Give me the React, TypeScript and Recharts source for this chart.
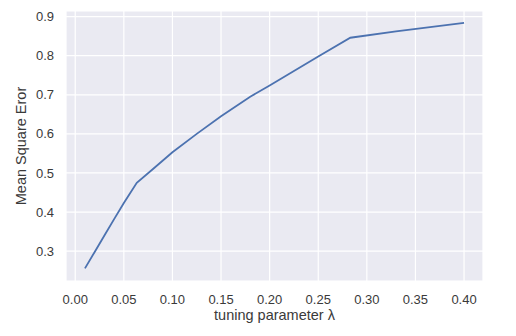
import { LineChart, Line, XAxis, YAxis, CartesianGrid } from 'recharts'

// tuning parameter lambda vs mean square error
const lambdas = [0.01, 0.02, 0.03, 0.04, 0.05, 0.0633, 0.08, 0.1, 0.125, 0.15, 0.18, 0.2, 0.25, 0.283, 0.33, 0.4]
const mse = [0.256, 0.298, 0.34, 0.382, 0.423, 0.475, 0.51, 0.553, 0.6, 0.645, 0.695, 0.724, 0.798, 0.846, 0.862, 0.884]

const xTicks = [0, 0.05, 0.1, 0.15, 0.2, 0.25, 0.3, 0.35, 0.4]
const yTicks = [0.3, 0.4, 0.5, 0.6, 0.7, 0.8, 0.9]

const data = lambdas.map((l, i) => ({ lambda: l, mse: mse[i] }))

const font = '"Liberation Sans", Arial, sans-serif'
const textColor = '#3a3a3a'

export default function App() {
  return (
    <div style={{ position: 'absolute', left: 0, top: 0, background: '#fff' }}>
      <LineChart
        width={516}
        height={336}
        data={data}
        margin={{ top: 11, left: 16, right: 33, bottom: 15 }}
      >
        {/* seaborn darkgrid look */}
        <CartesianGrid fill="#EAEAF2" stroke="#fff" strokeWidth={1.2} />
        <XAxis
          type="number"
          dataKey="lambda"
          domain={[-0.0095, 0.4195]}
          ticks={xTicks}
          allowDataOverflow
          tickFormatter={(v: number) => v.toFixed(2)}
          axisLine={false}
          tickLine={false}
          tickSize={0}
          tickMargin={14}
          height={40}
          tick={{ fill: textColor, fontSize: 13, fontFamily: font }}
          label={{
            value: 'tuning parameter λ',
            position: 'insideBottom',
            offset: 1,
            fill: textColor,
            fontSize: 14.5,
            fontFamily: font,
          }}
        />
        <YAxis
          type="number"
          domain={[0.2236, 0.9144]}
          ticks={yTicks}
          allowDataOverflow
          tickFormatter={(v: number) => v.toFixed(1)}
          axisLine={false}
          tickLine={false}
          tickSize={0}
          tickMargin={12}
          width={50}
          tick={{ fill: textColor, fontSize: 13, fontFamily: font }}
          label={{
            value: 'Mean Square Eror',
            angle: -90,
            position: 'center',
            dx: -20,
            fill: textColor,
            fontSize: 14.5,
            fontFamily: font,
          }}
        />
        <Line
          type="linear"
          dataKey="mse"
          stroke="#4C72B0"
          strokeWidth={1.8}
          dot={false}
          isAnimationActive={false}
        />
      </LineChart>
    </div>
  )
}
